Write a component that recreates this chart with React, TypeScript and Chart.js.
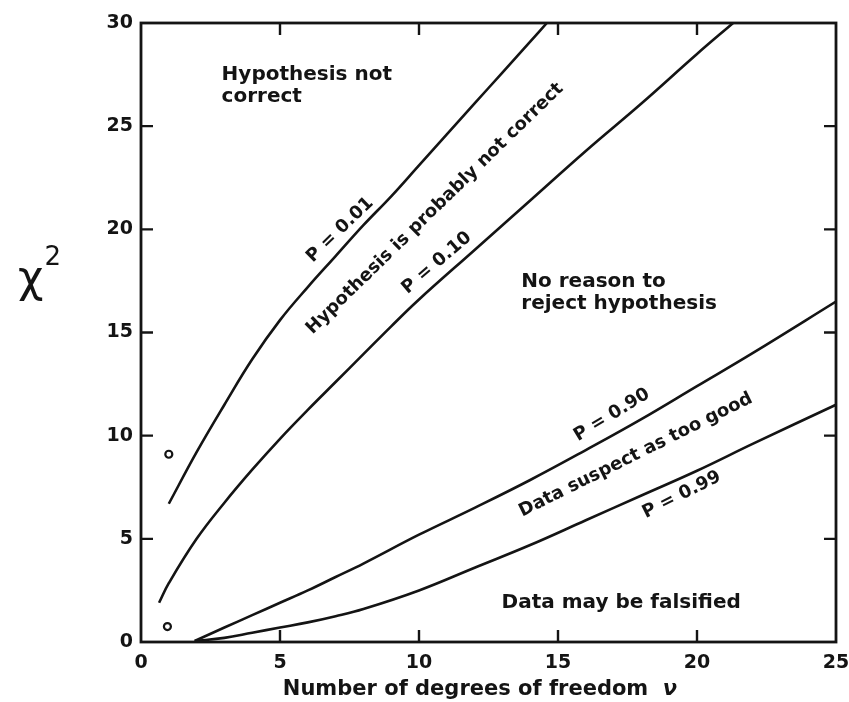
import React, { useEffect, useRef } from "react";
import { Chart, registerables } from "chart.js";

Chart.register(...registerables);

// Degrees of freedom (x) and chi-square values (y)
const nuP001 = [1, 2, 3, 4, 5, 6, 7, 8, 9, 10, 11, 12, 13, 14, 14.6];
const chiP001 = [6.7, 9.2, 11.5, 13.7, 15.6, 17.2, 18.7, 20.2, 21.6, 23.1, 24.6, 26.1, 27.6, 29.1, 30];

const nuP010 = [0.65, 1, 2, 3, 4, 5, 6, 7, 8, 9, 10, 12, 14, 16, 18, 20, 21.3];
const chiP010 = [1.9, 2.85, 5.0, 6.75, 8.35, 9.85, 11.25, 12.6, 13.95, 15.3, 16.6, 19.0, 21.4, 23.8, 26.1, 28.5, 30];

const nuP090 = [1.93, 3, 4, 5, 6, 7, 8, 10, 12, 14, 16, 18, 20, 22, 25];
const chiP090 = [0.05, 0.7, 1.3, 1.9, 2.5, 3.15, 3.8, 5.2, 6.5, 7.85, 9.3, 10.8, 12.4, 14.0, 16.5];

const nuP099 = [1.93, 3, 4, 5, 6, 7, 8, 10, 12, 14, 16, 18, 20, 22, 25];
const chiP099 = [0.05, 0.2, 0.45, 0.7, 0.95, 1.25, 1.6, 2.5, 3.6, 4.7, 5.9, 7.1, 8.3, 9.6, 11.5];

const markNu = [1.0, 0.95];
const markChi = [9.1, 0.75];

const xTickValues = [0, 5, 10, 15, 20, 25];
const yTickValues = [0, 5, 10, 15, 20, 25, 30];

const xTitle = "Number of degrees of freedom";
const xTitleSymbol = "ν";
const yTitle = "χ";
const yTitleSup = "2";

const regionLabels = [
  { lines: ["Hypothesis not", "correct"], nu: 2.9, chi: 27.5 },
  { lines: ["No reason to", "reject hypothesis"], nu: 13.68, chi: 17.45 },
  { lines: ["Data may be falsified"], nu: 12.97, chi: 1.9 },
];

const curveLabels = [
  { text: "P = 0.01", nu: 7.16, chi: 19.97, angle: -44 },
  { text: "Hypothesis is probably not correct", nu: 10.57, chi: 21.0, angle: -44.3 },
  { text: "P = 0.10", nu: 10.64, chi: 18.37, angle: -40.6 },
  { text: "P = 0.90", nu: 16.94, chi: 11.0, angle: -31.4 },
  { text: "Data suspect as too good", nu: 17.8, chi: 9.06, angle: -26.4 },
  { text: "P = 0.99", nu: 19.45, chi: 7.13, angle: -26.6 },
];

const INK = "#141414";
const FONT = "'DejaVu Sans', 'Liberation Sans', sans-serif";

export default function App() {
  const ref = useRef<HTMLCanvasElement>(null);

  useEffect(() => {
    document.body.style.margin = "0";
    const pts = (xs: number[], ys: number[]) => xs.map((x, i) => ({ x, y: ys[i] }));
    const curve = (label: string, xs: number[], ys: number[]) => ({
      label,
      data: pts(xs, ys),
      showLine: true,
      borderColor: INK,
      borderWidth: 2.6,
      pointRadius: 0,
      fill: false,
      tension: 0.4,
    });

    const overlay = {
      id: "overlay",
      afterDatasetsDraw(chart: any) {
        const { ctx, chartArea: a, scales } = chart;
        const xs = scales.x;
        const ys = scales.y;
        ctx.save();
        ctx.strokeStyle = INK;
        ctx.lineWidth = 2.8;
        ctx.strokeRect(a.left, a.top, a.right - a.left, a.bottom - a.top);
        ctx.lineWidth = 2.4;
        const tl = 12;
        xTickValues.slice(1, -1).forEach((v) => {
          const px = xs.getPixelForValue(v);
          ctx.beginPath();
          ctx.moveTo(px, a.bottom);
          ctx.lineTo(px, a.bottom - tl);
          ctx.moveTo(px, a.top);
          ctx.lineTo(px, a.top + tl);
          ctx.stroke();
        });
        yTickValues.slice(1, -1).forEach((v) => {
          const py = ys.getPixelForValue(v);
          ctx.beginPath();
          ctx.moveTo(a.left, py);
          ctx.lineTo(a.left + tl, py);
          ctx.moveTo(a.right, py);
          ctx.lineTo(a.right - tl, py);
          ctx.stroke();
        });

        ctx.fillStyle = INK;
        ctx.font = `bold 20px ${FONT}`;
        ctx.textAlign = "left";
        ctx.textBaseline = "middle";
        regionLabels.forEach((r) => {
          const x = xs.getPixelForValue(r.nu);
          const y = ys.getPixelForValue(r.chi);
          r.lines.forEach((ln, i) => ctx.fillText(ln, x, y + i * 22));
        });

        ctx.font = `bold 18px ${FONT}`;
        ctx.textAlign = "center";
        curveLabels.forEach((c) => {
          const x = xs.getPixelForValue(c.nu);
          const y = ys.getPixelForValue(c.chi);
          ctx.save();
          ctx.translate(x, y);
          ctx.rotate((c.angle * Math.PI) / 180);
          ctx.fillText(c.text, 0, 0);
          ctx.restore();
        });

        // x title
        ctx.font = `bold 21px ${FONT}`;
        ctx.textAlign = "left";
        const w1 = ctx.measureText(xTitle + "  ").width;
        ctx.font = `italic bold 21px ${FONT}`;
        const w2 = ctx.measureText(xTitleSymbol).width;
        const cx = 480;
        const startX = cx - (w1 + w2) / 2;
        ctx.font = `bold 21px ${FONT}`;
        ctx.fillText(xTitle, startX, 690);
        ctx.font = `italic bold 21px ${FONT}`;
        ctx.fillText(xTitleSymbol, startX + w1, 690);

        // y title
        ctx.font = `44px ${FONT}`;
        ctx.textAlign = "left";
        ctx.textBaseline = "alphabetic";
        ctx.fillText(yTitle, 18, 292);
        const wy = ctx.measureText(yTitle).width;
        ctx.font = `26px ${FONT}`;
        ctx.fillText(yTitleSup, 18 + wy + 1, 265);
        ctx.restore();
      },
    };

    const chart = new Chart(ref.current as HTMLCanvasElement, {
      type: "scatter",
      data: {
        datasets: [
          curve("P = 0.01", nuP001, chiP001),
          curve("P = 0.10", nuP010, chiP010),
          curve("P = 0.90", nuP090, chiP090),
          curve("P = 0.99", nuP099, chiP099),
          {
            label: "marks",
            data: pts(markNu, markChi),
            showLine: false,
            pointRadius: 3.5,
            pointBorderWidth: 2.2,
            pointBackgroundColor: "#ffffff",
            pointBorderColor: INK,
          } as any,
        ],
      },
      options: {
        responsive: false,
        animation: false,
        devicePixelRatio: 1,
        layout: { padding: { top: 23, right: 13, left: 0, bottom: 0 } },
        plugins: { legend: { display: false }, tooltip: { enabled: false } },
        scales: {
          x: {
            type: "linear",
            min: 0,
            max: 25,
            afterBuildTicks: (s: any) => {
              s.ticks = xTickValues.map((v) => ({ value: v }));
            },
            afterFit: (s: any) => {
              s.height = 60;
              s.paddingLeft = 0;
              s.paddingRight = 0;
            },
            grid: { display: false, drawTicks: false },
            border: { display: false },
            ticks: {
              padding: 10,
              color: INK,
              font: { family: FONT, size: 19, weight: "bold" },
              maxRotation: 0,
            },
          },
          y: {
            type: "linear",
            min: 0,
            max: 30,
            afterBuildTicks: (s: any) => {
              s.ticks = yTickValues.map((v) => ({ value: v }));
            },
            afterFit: (s: any) => {
              s.width = 141;
              s.paddingTop = 0;
              s.paddingBottom = 0;
            },
            grid: { display: false, drawTicks: false },
            border: { display: false },
            ticks: {
              padding: 8,
              color: INK,
              font: { family: FONT, size: 19, weight: "bold" },
            },
          },
        },
      },
      plugins: [overlay],
    } as any);
    return () => chart.destroy();
  }, []);

  return (
    <div style={{ width: 849, height: 702, position: "relative", background: "#fff" }}>
      <canvas ref={ref} width={849} height={702} style={{ display: "block" }} />
    </div>
  );
}
